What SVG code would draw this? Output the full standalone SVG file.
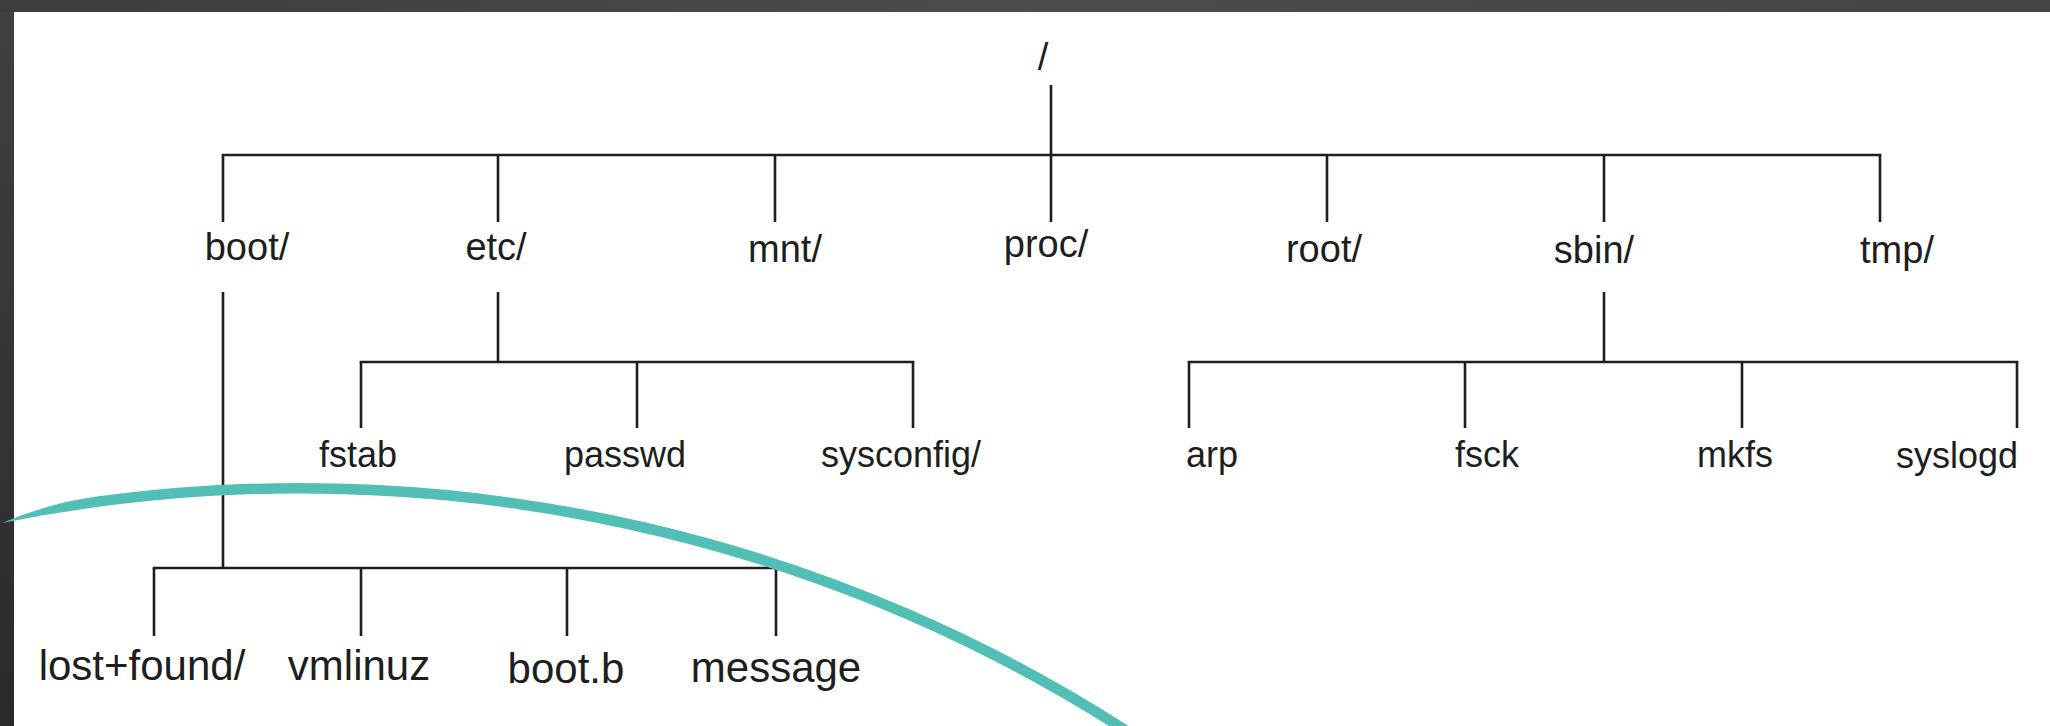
<svg xmlns="http://www.w3.org/2000/svg" width="2050" height="726" viewBox="0 0 2050 726">
  <defs>
    <linearGradient id="leftBar" x1="0" y1="0" x2="0" y2="1">
      <stop offset="0" stop-color="#404040"/>
      <stop offset="1" stop-color="#2a2a2a"/>
    </linearGradient>
    <linearGradient id="topBar" x1="0" y1="0" x2="1" y2="0">
      <stop offset="0" stop-color="#3c3c3c"/>
      <stop offset="0.5" stop-color="#4c4c4c"/>
      <stop offset="1" stop-color="#444444"/>
    </linearGradient>
    <style>
      .lbl { font-family: "Liberation Sans", Arial, sans-serif; fill: #1e1e1e; text-anchor: middle; }
      .l1 { font-size: 38px; }
      .l2 { font-size: 36px; }
      .l3 { font-size: 42px; }
      .conn line { stroke: #1e1e1e; stroke-width: 2.6; stroke-linecap: butt; }
    </style>
  </defs>

  <!-- frame -->
  <rect x="0" y="0" width="2050" height="726" fill="url(#leftBar)"/>
  <rect x="0" y="0" width="2050" height="12" fill="url(#topBar)"/>
  <rect x="14" y="12" width="2036" height="714" fill="#ffffff"/>

  <!-- connectors -->
  <g id="connectors" class="conn">
    <line x1="1051" y1="85" x2="1051" y2="155"/>
    <line x1="221.7" y1="155" x2="1881.3" y2="155"/>
    <line x1="223" y1="155" x2="223" y2="222"/>
    <line x1="498" y1="155" x2="498" y2="222"/>
    <line x1="775" y1="155" x2="775" y2="222"/>
    <line x1="1051" y1="155" x2="1051" y2="222"/>
    <line x1="1327" y1="155" x2="1327" y2="222"/>
    <line x1="1604" y1="155" x2="1604" y2="222"/>
    <line x1="1880" y1="155" x2="1880" y2="222"/>

    <line x1="498" y1="292" x2="498" y2="362"/>
    <line x1="359.7" y1="362" x2="914.3" y2="362"/>
    <line x1="361" y1="362" x2="361" y2="428"/>
    <line x1="637" y1="362" x2="637" y2="428"/>
    <line x1="913" y1="362" x2="913" y2="428"/>

    <line x1="1604" y1="292" x2="1604" y2="362"/>
    <line x1="1187.7" y1="362" x2="2018.3" y2="362"/>
    <line x1="1189" y1="362" x2="1189" y2="428"/>
    <line x1="1465" y1="362" x2="1465" y2="428"/>
    <line x1="1742" y1="362" x2="1742" y2="428"/>
    <line x1="2017" y1="362" x2="2017" y2="428"/>

    <line x1="223" y1="292" x2="223" y2="568"/>
    <line x1="152.7" y1="568" x2="777.3" y2="568"/>
    <line x1="154" y1="568" x2="154" y2="636"/>
    <line x1="361" y1="568" x2="361" y2="636"/>
    <line x1="567" y1="568" x2="567" y2="636"/>
    <line x1="776" y1="568" x2="776" y2="636"/>
  </g>

  <!-- nodes -->
  <g id="node-root"><text class="lbl l1" x="1043" y="70">/</text></g>
  <g id="node-boot"><text class="lbl l1" x="247" y="260">boot/</text></g>
  <g id="node-etc"><text class="lbl l1" x="496" y="260">etc/</text></g>
  <g id="node-mnt"><text class="lbl l1" x="785" y="262">mnt/</text></g>
  <g id="node-proc"><text class="lbl l1" x="1046" y="257">proc/</text></g>
  <g id="node-rootdir"><text class="lbl l1" x="1324" y="262">root/</text></g>
  <g id="node-sbin"><text class="lbl l1" x="1594" y="263">sbin/</text></g>
  <g id="node-tmp"><text class="lbl l1" x="1897" y="263">tmp/</text></g>

  <g id="node-fstab"><text class="lbl l2" x="358" y="467">fstab</text></g>
  <g id="node-passwd"><text class="lbl l2" x="625" y="467">passwd</text></g>
  <g id="node-sysconfig"><text class="lbl l2" x="901" y="467">sysconfig/</text></g>
  <g id="node-arp"><text class="lbl l2" x="1212" y="467">arp</text></g>
  <g id="node-fsck"><text class="lbl l2" x="1487" y="467">fsck</text></g>
  <g id="node-mkfs"><text class="lbl l2" x="1735" y="467">mkfs</text></g>
  <g id="node-syslogd"><text class="lbl l2" x="1957" y="468">syslogd</text></g>

  <g id="node-lostfound"><text class="lbl l3" x="142" y="680">lost+found/</text></g>
  <g id="node-vmlinuz"><text class="lbl l3" x="359" y="680">vmlinuz</text></g>
  <g id="node-bootb"><text class="lbl l3" x="566" y="683">boot.b</text></g>
  <g id="node-message"><text class="lbl l3" x="776" y="682">message</text></g>

  <!-- teal swoosh -->
  <path id="swoosh" d="M 2 522.9 Q 50 502.6 100 496.1 A 1534 1534 0 0 1 1150 740 L 1130.9 740 A 1523.5 1523.5 0 0 0 2 522.9 Z" fill="#52bfb6"/>
</svg>
